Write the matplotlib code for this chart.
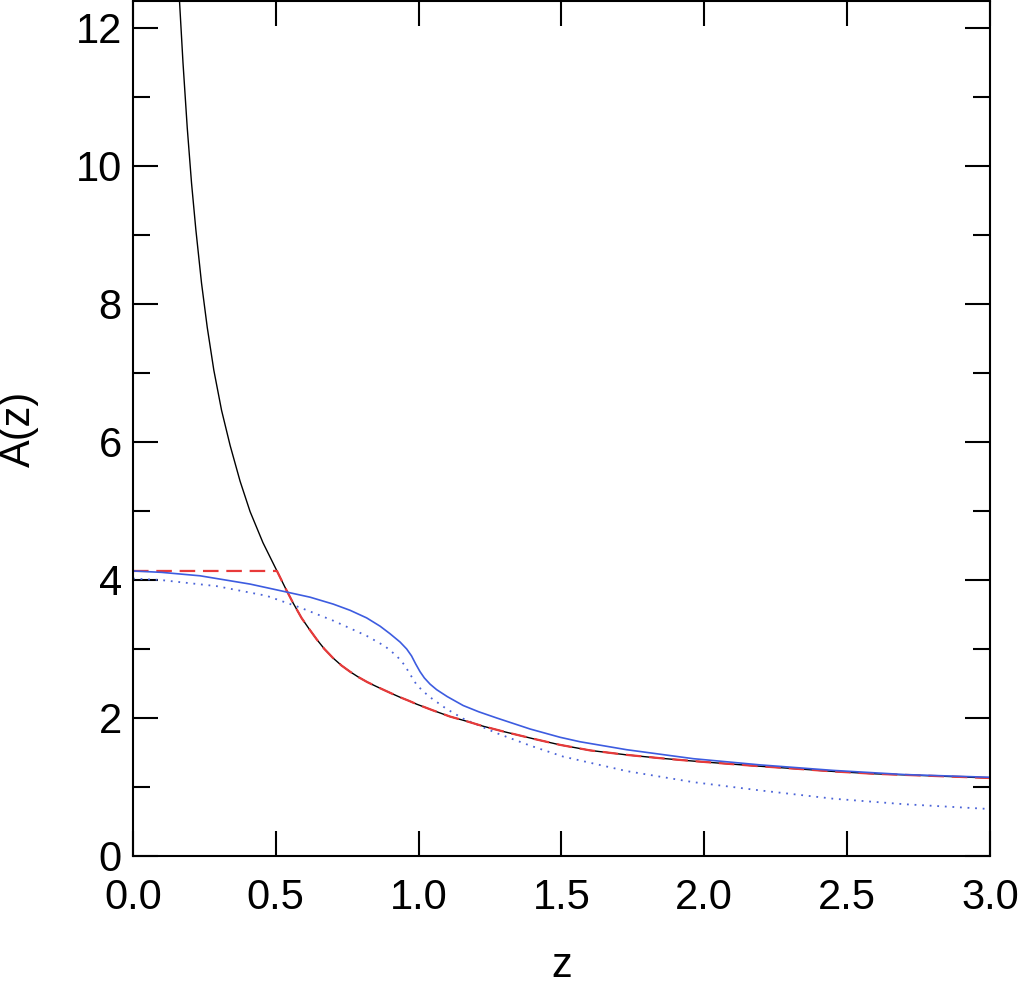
import matplotlib

matplotlib.use("Agg")
import matplotlib.pyplot as plt
from matplotlib.ticker import FormatStrFormatter, MultipleLocator

plt.rcParams["font.family"] = ["Liberation Sans", "DejaVu Sans"]

# black: full curve
black_z = [0.150, 0.163, 0.175, 0.190, 0.205, 0.220, 0.240, 0.260, 0.283, 0.310,
           0.340, 0.375, 0.410, 0.455, 0.504, 0.535, 0.560, 0.590, 0.615, 0.643,
           0.670, 0.700, 0.730, 0.760, 0.790, 0.820, 0.850, 0.876, 0.905, 0.935,
           0.965, 0.993, 1.050, 1.110, 1.170, 1.226, 1.300, 1.400, 1.495, 1.600,
           1.728, 1.850, 1.961, 2.100, 2.195, 2.335, 2.451, 2.600, 2.800, 3.000]
black_a = [13.50, 12.38, 11.50, 10.55, 9.75, 9.08, 8.30, 7.66, 7.04, 6.46,
           5.95, 5.43, 4.99, 4.54, 4.13, 3.87, 3.67, 3.45, 3.30, 3.14,
           3.00, 2.87, 2.76, 2.67, 2.59, 2.52, 2.46, 2.41, 2.355, 2.30,
           2.25, 2.20, 2.11, 2.02, 1.95, 1.88, 1.80, 1.70, 1.61, 1.53,
           1.465, 1.415, 1.375, 1.33, 1.30, 1.26, 1.225, 1.19, 1.16, 1.13]

# red dashed: flat cap, then on top of the black curve
red_z = [0.0] + black_z[14:]
red_a = [4.13] + black_a[14:]

# blue solid
blue_z = [0.0, 0.10, 0.235, 0.41, 0.532, 0.62, 0.701, 0.760, 0.818, 0.865,
          0.900, 0.935, 0.958, 0.975, 0.990, 1.005, 1.020, 1.040, 1.063, 1.100,
          1.156, 1.210, 1.273, 1.390, 1.495, 1.565, 1.728, 1.961, 2.195, 2.451,
          2.700, 3.0]
blue_a = [4.13, 4.11, 4.06, 3.94, 3.83, 3.75, 3.65, 3.56, 3.45, 3.33,
          3.22, 3.10, 3.00, 2.90, 2.78, 2.67, 2.58, 2.49, 2.41, 2.31,
          2.18, 2.09, 2.00, 1.84, 1.72, 1.655, 1.54, 1.41, 1.32, 1.24,
          1.18, 1.14]

# blue dotted
dot_z = [0.0, 0.095, 0.293, 0.468, 0.585, 0.701, 0.818, 0.882, 0.923, 0.950,
         0.975, 0.993, 1.015, 1.040, 1.098, 1.156, 1.273, 1.390, 1.506, 1.728,
         1.961, 2.195, 2.451, 2.700, 3.0]
dot_a = [4.02, 4.00, 3.91, 3.77, 3.60, 3.41, 3.19, 3.04, 2.90, 2.77,
         2.60, 2.48, 2.39, 2.30, 2.13, 1.99, 1.78, 1.60, 1.44, 1.23,
         1.07, 0.95, 0.83, 0.75, 0.68]

fig = plt.figure(figsize=(10.19, 9.85), dpi=100)
ax = fig.add_axes([0.1305, 0.131, 0.841, 0.868])

ax.plot(black_z, black_a, color="black", linewidth=1.0)
ax.plot(dot_z, dot_a, color="#4a63d8", linewidth=1.3, linestyle=(0, (1, 3.2)))
ax.plot(red_z, red_a, color="#e83a3a", linewidth=1.6, linestyle=(0, (7, 3.5)))
ax.plot(blue_z, blue_a, color="#3d5ce0", linewidth=1.2)

ax.set_xlim(0, 3.0)
ax.set_ylim(0, 12.39)
ax.xaxis.set_major_locator(MultipleLocator(0.5))
ax.yaxis.set_major_locator(MultipleLocator(2))
ax.yaxis.set_minor_locator(MultipleLocator(1))
ax.xaxis.set_major_formatter(FormatStrFormatter("%.1f"))

ax.tick_params(which="both", direction="in", top=True, right=True,
               labelsize=30, width=1.5)
ax.tick_params(axis="x", which="major", length=18, pad=16)
ax.tick_params(axis="y", which="major", length=18, pad=8)
ax.tick_params(which="minor", length=12)
for spine in ax.spines.values():
    spine.set_linewidth(1.5)

ax.set_xlabel("z", fontsize=30, labelpad=20)
ax.set_ylabel("A(z)", fontsize=30, labelpad=26)

fig.savefig("out.png", dpi=100)
